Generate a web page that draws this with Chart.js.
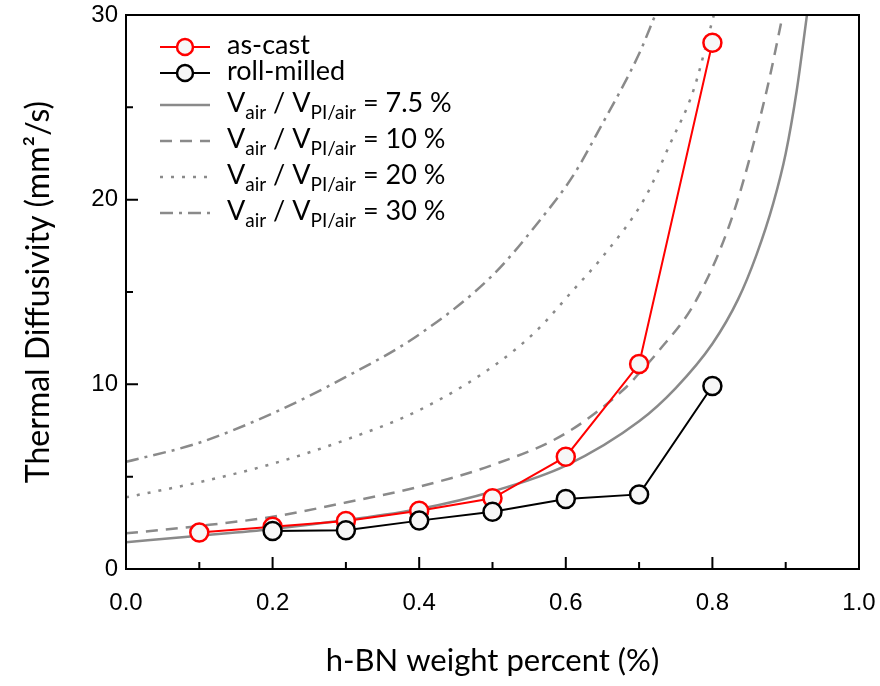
<!DOCTYPE html>
<html>
<head>
<meta charset="utf-8">
<script src="https://cdn.jsdelivr.net/npm/chart.js@4"></script>
<style>
  body { margin: 0; background: #fff; }
  #wrap { width: 880px; height: 686px; }
</style>
</head>
<body>
<div id="wrap"><canvas id="chart" width="880" height="686"></canvas></div>
<script>
// measured samples (h-BN wt%)
const xMeasured = [0.1, 0.2, 0.3, 0.4, 0.5, 0.6, 0.7, 0.8];
const asCast = [1.97, 2.29, 2.6, 3.16, 3.83, 6.08, 11.1, 28.5];
const rollMilled = [null, 2.06, 2.1, 2.62, 3.1, 3.79, 4.04, 9.91];

// model curves, one per air fraction
const airFractions = ['7.5', '10', '20', '30'];
const curveX = [
  [0, 0.1, 0.2, 0.3, 0.4, 0.5, 0.6, 0.7, 0.75, 0.8, 0.835, 0.86, 0.883, 0.9, 0.915, 0.929],
  [0, 0.1, 0.2, 0.3, 0.4, 0.5, 0.6, 0.683, 0.7, 0.724, 0.778, 0.829, 0.874, 0.896],
  [0, 0.1, 0.2, 0.3, 0.4, 0.5, 0.56, 0.61, 0.65, 0.708, 0.742, 0.774, 0.802],
  [0, 0.1, 0.2, 0.3, 0.4, 0.5, 0.565, 0.61, 0.647, 0.7, 0.722]
];
const curveY = [
  [1.45, 1.8, 2.17, 2.65, 3.25, 4.2, 5.6, 8.0, 9.8, 12.2, 14.6, 17.0, 19.8, 22.5, 25.9, 30],
  [1.93, 2.33, 2.83, 3.6, 4.46, 5.63, 7.35, 9.87, 10.6, 11.68, 14.56, 19.3, 25.9, 30],
  [3.88, 4.7, 5.7, 7.0, 8.6, 10.95, 12.9, 15.1, 16.9, 20.1, 23.0, 25.9, 30],
  [5.8, 6.84, 8.43, 10.4, 12.7, 15.9, 18.9, 21.3, 23.9, 27.9, 30]
];
const curveDash = [[], [12, 8], [3, 8], [13, 6, 3, 6]];

const curveGray = '#8a8a8a';
const textFont = 'Lato, "Open Sans", sans-serif';

function points(xs, ys) {
  return xs.map((x, i) => ({ x: x, y: ys[i] })).filter(p => p.y !== null);
}

const datasets = [
  {
    label: 'roll-milled',
    data: points(xMeasured, rollMilled),
    borderColor: '#000',
    borderWidth: 2,
    pointRadius: 9,
    pointBorderWidth: 2.5,
    pointBackgroundColor: '#f7f7f7',
    pointBorderColor: '#000'
  },
  {
    label: 'as-cast',
    data: points(xMeasured, asCast),
    borderColor: '#f00',
    borderWidth: 2,
    pointRadius: 9,
    pointBorderWidth: 2.5,
    pointBackgroundColor: '#f7f7f7',
    pointBorderColor: '#f00'
  }
];
airFractions.forEach((f, i) => {
  datasets.push({
    label: 'Vair / VPI/air = ' + f + ' %',
    data: points(curveX[i], curveY[i]),
    borderColor: curveGray,
    borderWidth: 2.5,
    borderDash: curveDash[i],
    pointRadius: 0,
    cubicInterpolationMode: 'monotone'
  });
});

// inward ticks, closed frame, and a legend with subscripts
const frameAndLegend = {
  id: 'frameAndLegend',
  afterDraw(chart) {
    const { ctx, chartArea: a, scales: { x, y } } = chart;
    ctx.save();
    ctx.strokeStyle = '#000';
    ctx.lineWidth = 2;
    ctx.strokeRect(a.left, a.top, a.right - a.left, a.bottom - a.top);

    ctx.beginPath();
    x.ticks.forEach(t => {
      const px = x.getPixelForValue(t.value);
      if (px <= a.left + 1 || px >= a.right - 1) return;
      const len = t.label ? 12 : 7;
      ctx.moveTo(px, a.bottom);
      ctx.lineTo(px, a.bottom - len);
    });
    y.ticks.forEach(t => {
      const py = y.getPixelForValue(t.value);
      if (py <= a.top + 1 || py >= a.bottom - 1) return;
      const len = t.label ? 12 : 7;
      ctx.moveTo(a.left, py);
      ctx.lineTo(a.left + len, py);
    });
    ctx.stroke();

    // legend
    const x0 = a.left + 34, x1 = a.left + 84, tx = a.left + 101;
    const rowY = [47, 73, 105, 141, 177, 213].map(v => v + a.top - 15);
    const bigFont = '27px ' + textFont;
    const subFont = '19px ' + textFont;
    ctx.textBaseline = 'middle';
    ctx.fillStyle = '#000';

    [datasets[1], datasets[0]].forEach((ds, i) => {
      const yy = rowY[i];
      ctx.strokeStyle = ds.borderColor;
      ctx.lineWidth = 2;
      ctx.setLineDash([]);
      ctx.beginPath();
      ctx.moveTo(x0, yy);
      ctx.lineTo(x1, yy);
      ctx.stroke();
      ctx.beginPath();
      ctx.arc((x0 + x1) / 2, yy, 8, 0, Math.PI * 2);
      ctx.fillStyle = '#f7f7f7';
      ctx.fill();
      ctx.lineWidth = 2.5;
      ctx.stroke();
      ctx.fillStyle = '#000';
      ctx.font = bigFont;
      ctx.fillText(ds.label, tx, yy - 2);
    });

    airFractions.forEach((f, i) => {
      const yy = rowY[i + 2];
      const ds = datasets[i + 2];
      ctx.strokeStyle = curveGray;
      ctx.lineWidth = 2.5;
      ctx.setLineDash(ds.borderDash);
      ctx.beginPath();
      ctx.moveTo(x0, yy);
      ctx.lineTo(x1, yy);
      ctx.stroke();
      ctx.setLineDash([]);

      let cx = tx;
      const parts = [
        ['V', bigFont, -2], ['air', subFont, 8], [' / ', bigFont, -2],
        ['V', bigFont, -2], ['PI/air', subFont, 8], [' = ' + f + ' %', bigFont, -2]
      ];
      parts.forEach(([s, font, dy]) => {
        ctx.font = font;
        ctx.fillStyle = '#000';
        ctx.fillText(s, cx, yy + dy);
        cx += ctx.measureText(s).width;
      });
    });
    ctx.restore();
  }
};

new Chart(document.getElementById('chart'), {
  type: 'line',
  data: { datasets: datasets },
  plugins: [frameAndLegend],
  options: {
    responsive: false,
    animation: false,
    layout: { padding: { top: 15, right: 21, left: 0, bottom: 0 } },
    plugins: {
      legend: { display: false },
      tooltip: { enabled: false }
    },
    scales: {
      x: {
        type: 'linear',
        min: 0,
        max: 1,
        afterFit: s => { s.height = 117; s.paddingLeft = 0; s.paddingRight = 0; },
        ticks: {
          stepSize: 0.1,
          autoSkip: false,
          maxRotation: 0,
          padding: 20,
          color: '#000',
          font: { family: '"Liberation Sans Narrow", "Liberation Sans", Arial', size: 24 },
          callback: v => (Math.round(v * 10) % 2 === 0 ? v.toFixed(1) : '')
        },
        grid: { display: false, drawTicks: false },
        border: { display: true, color: '#000', width: 2 },
        title: {
          display: true,
          text: 'h-BN weight percent (%)',
          color: '#000',
          font: { family: textFont, size: 31 },
          padding: { top: 0, bottom: 6 }
        }
      },
      y: {
        min: 0,
        max: 30,
        afterFit: s => { s.width = 126; s.paddingTop = 0; s.paddingBottom = 0; },
        ticks: {
          stepSize: 5,
          autoSkip: false,
          padding: 8,
          color: '#000',
          font: { family: '"Liberation Sans", Arial', size: 24 },
          callback: v => (v % 10 === 0 ? v : '')
        },
        grid: { display: false, drawTicks: false },
        border: { display: true, color: '#000', width: 2 },
        title: {
          display: true,
          text: 'Thermal Diffusivity (mm²/s)',
          color: '#000',
          font: { family: textFont, size: 32 },
          padding: { top: 19, bottom: 0 }
        }
      }
    }
  }
});
</script>
</body>
</html>
